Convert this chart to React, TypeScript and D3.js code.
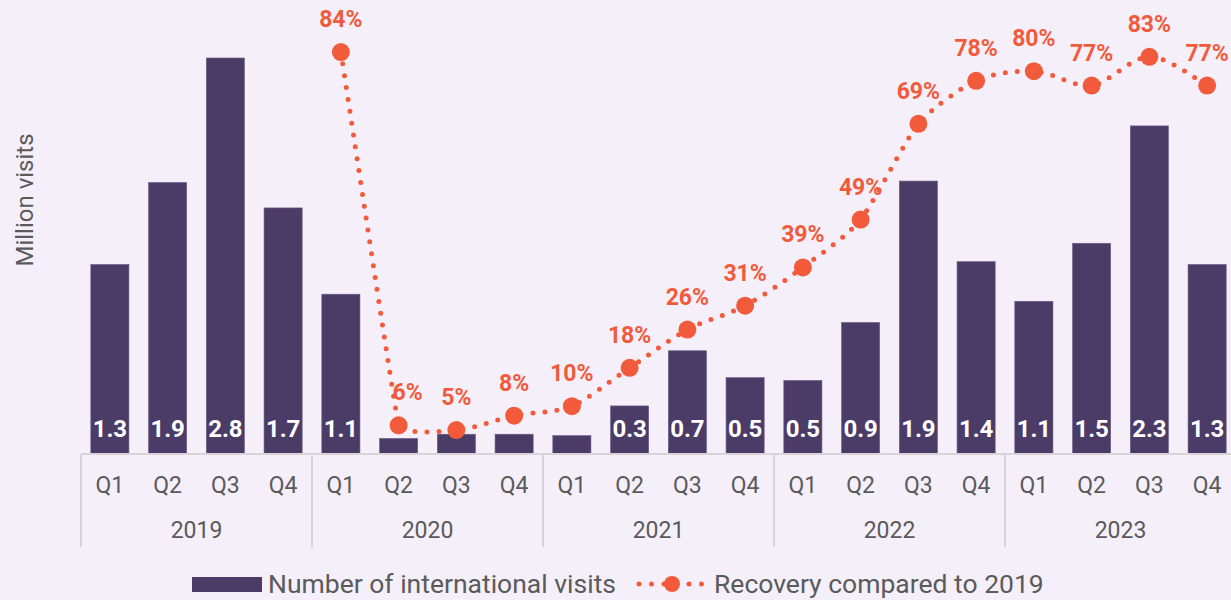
import React, { useEffect, useRef } from 'react'
import * as d3 from 'd3'

const quarters = ['Q1', 'Q2', 'Q3', 'Q4']
const years = ['2019', '2020', '2021', '2022', '2023']
// million visits per quarter, 2019 Q1 .. 2023 Q4
const visits = [
  1.34, 1.92, 2.8, 1.74, 1.13, 0.11, 0.14, 0.14, 0.13, 0.34, 0.73, 0.54, 0.52, 0.93, 1.93, 1.36,
  1.08, 1.49, 2.32, 1.34,
]
// recovery vs same quarter of 2019, in %
const recovery = [
  null, null, null, null, 84, 6, 5, 8, 10, 18, 26, 31, 39, 49, 69, 78, 80, 77, 83, 77,
]

const W = 1231
const H = 600
const BG = '#f5effa'
const BAR = '#4b3b67'
const ORANGE = '#f15b3b'
const GREY = '#5a5a5a'
const AXIS = '#d6d4d9'
const FONT = 'Roboto, sans-serif'

// smooth line like a spreadsheet: handles get shorter next to a short segment
const smoothPath = (px) => {
  const n = px.length
  const dist = (a, b) => Math.hypot(b[0] - a[0], b[1] - a[1])
  const hand = px.map((p, i) => {
    const a = px[Math.max(i - 1, 0)]
    const b = px[Math.min(i + 1, n - 1)]
    const dPrev = i > 0 ? dist(px[i - 1], p) : dist(p, b)
    const dNext = i < n - 1 ? dist(p, px[i + 1]) : dPrev
    const f = Math.min(dPrev, dNext) / Math.max(dPrev, dNext)
    return [((b[0] - a[0]) / 6) * f, ((b[1] - a[1]) / 6) * f]
  })
  const path = d3.path()
  path.moveTo(px[0][0], px[0][1])
  for (let i = 0; i < n - 1; i++) {
    path.bezierCurveTo(
      px[i][0] + hand[i][0],
      px[i][1] + hand[i][1],
      px[i + 1][0] - hand[i + 1][0],
      px[i + 1][1] - hand[i + 1][1],
      px[i + 1][0],
      px[i + 1][1],
    )
  }
  return path.toString()
}

const App = () => {
  const svgRef = useRef(null)

  useEffect(() => {
    document.body.style.margin = '0'
    document.body.style.background = BG

    const base = 454
    const keys = years.flatMap((y) => quarters.map((q) => `${y}-${q}`))

    // the chart area runs a little past the right edge of the picture
    const x = d3.scaleBand().domain(keys).range([81, 1236]).paddingInner(0.34).paddingOuter(0.17)
    const yBar = d3.scaleLinear().domain([0, 2.8]).range([base, 58])
    const yPct = d3.scaleLinear().domain([0, 100]).range([base, -24.5])
    const cx = (k) => x(k) + x.bandwidth() / 2

    const svg = d3.select(svgRef.current)
    svg.selectAll('*').remove()
    svg.attr('width', W).attr('height', H).style('display', 'block').style('background', BG)

    // y axis title
    svg
      .append('text')
      .attr('transform', `translate(33, 200) rotate(-90)`)
      .attr('text-anchor', 'middle')
      .style('font-family', FONT)
      .style('font-size', '24px')
      .style('fill', GREY)
      .text('Million visits')

    const bars = visits.map((v, i) => ({ k: keys[i], v }))

    // bars
    svg
      .append('g')
      .selectAll('rect')
      .data(bars)
      .join('rect')
      .attr('x', (d) => x(d.k))
      .attr('width', x.bandwidth())
      .attr('y', (d) => yBar(d.v))
      .attr('height', (d) => base - yBar(d.v))
      .attr('fill', BAR)
      .attr('stroke', '#6c5e86')
      .attr('stroke-width', 0.6)

    // bar values (only where the bar is tall enough)
    svg
      .append('g')
      .selectAll('text')
      .data(bars.filter((d) => base - yBar(d.v) > 35))
      .join('text')
      .attr('x', (d) => cx(d.k))
      .attr('y', base - 17)
      .attr('text-anchor', 'middle')
      .style('font-family', FONT)
      .style('font-weight', 700)
      .style('font-size', '24px')
      .style('fill', '#fff')
      .text((d) => d.v.toFixed(1))

    // x axis line and year separators
    const axis = svg.append('g')
    axis
      .append('line')
      .attr('x1', 81)
      .attr('x2', W)
      .attr('y1', base)
      .attr('y2', base)
      .attr('stroke', AXIS)
      .attr('stroke-width', 2)
    const gap = (x.step() * x.paddingInner()) / 2
    years.forEach((yr, j) => {
      const left = j === 0 ? 81 : x(`${yr}-Q1`) - gap
      const right = j === years.length - 1 ? x.range()[1] : x(`${years[j + 1]}-Q1`) - gap
      axis
        .append('line')
        .attr('x1', left)
        .attr('x2', left)
        .attr('y1', base)
        .attr('y2', 547)
        .attr('stroke', AXIS)
        .attr('stroke-width', 2)
      axis
        .append('text')
        .attr('x', (left + right) / 2)
        .attr('y', 538)
        .attr('text-anchor', 'middle')
        .style('font-family', FONT)
        .style('font-size', '23px')
        .style('fill', GREY)
        .text(yr)
    })
    axis
      .selectAll('text.q')
      .data(keys)
      .join('text')
      .attr('class', 'q')
      .attr('x', (k) => cx(k))
      .attr('y', 493)
      .attr('text-anchor', 'middle')
      .style('font-family', FONT)
      .style('font-size', '23px')
      .style('fill', GREY)
      .text((k) => k.split('-')[1])

    // recovery line
    const pts = recovery
      .map((v, i) => (v == null ? null : { k: keys[i], v }))
      .filter((p) => p != null)
    svg
      .append('path')
      .attr('d', smoothPath(pts.map((p) => [cx(p.k), yPct(p.v)])))
      .attr('fill', 'none')
      .attr('stroke', ORANGE)
      .attr('stroke-width', 5)
      .attr('stroke-linecap', 'round')
      .attr('stroke-dasharray', '0 12')

    svg
      .append('g')
      .selectAll('circle')
      .data(pts)
      .join('circle')
      .attr('cx', (p) => cx(p.k))
      .attr('cy', (p) => yPct(p.v))
      .attr('r', 9)
      .attr('fill', ORANGE)

    svg
      .append('g')
      .selectAll('text')
      .data(pts)
      .join('text')
      .attr('x', (p) => cx(p.k) + (p.v === 6 ? 9 : 0))
      .attr('y', (p) => yPct(p.v) - 25)
      .attr('text-anchor', 'middle')
      .style('font-family', FONT)
      .style('font-weight', 700)
      .style('font-size', '23px')
      .style('fill', ORANGE)
      .text((p) => `${p.v}%`)

    // legend
    const lg = svg.append('g').style('font-family', FONT).style('font-size', '26.5px').style('fill', GREY)
    lg.append('rect').attr('x', 192).attr('y', 577).attr('width', 70).attr('height', 15).attr('fill', BAR)
    lg.append('text').attr('x', 268).attr('y', 593).text('Number of international visits')
    lg.append('line')
      .attr('x1', 639)
      .attr('x2', 703)
      .attr('y1', 584)
      .attr('y2', 584)
      .attr('stroke', ORANGE)
      .attr('stroke-width', 5)
      .attr('stroke-linecap', 'round')
      .attr('stroke-dasharray', '0 12.5')
    lg.append('circle').attr('cx', 672).attr('cy', 584).attr('r', 8).attr('fill', ORANGE)
    lg.append('text').attr('x', 714).attr('y', 593).text('Recovery compared to 2019')
  }, [])

  return <svg ref={svgRef}></svg>
}

export default App
